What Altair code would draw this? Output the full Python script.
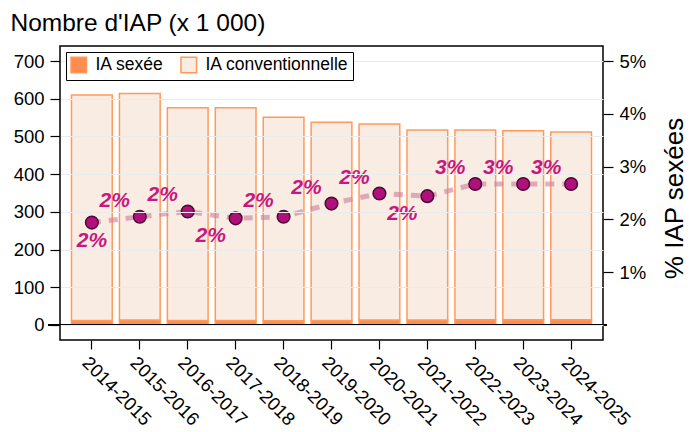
import altair as alt
import pandas as pd

saisons = ["2014-2015", "2015-2016", "2016-2017", "2017-2018", "2018-2019",
           "2019-2020", "2020-2021", "2021-2022", "2022-2023", "2023-2024", "2024-2025"]
ia_sexee = [12, 13, 12, 12, 11, 12, 13, 13, 14, 14, 14]
ia_conventionnelle = [598, 601, 564, 564, 540, 526, 520, 504, 503, 501, 498]
pct_sexees = [0.0194, 0.0205, 0.0215, 0.0202, 0.0205, 0.0230, 0.0249, 0.0244, 0.0267, 0.0267, 0.0267]
labels_dessous = ["2014-2015", "2017-2018", "2021-2022"]

types = ["IA sexée", "IA conventionnelle"]

rows = []
for s, a, b in zip(saisons, ia_sexee, ia_conventionnelle):
    rows.append({"saison": s, "type": types[0], "valeur": a, "ord": 0})
    rows.append({"saison": s, "type": types[1], "valeur": b, "ord": 1})
bars_df = pd.DataFrame(rows)

pct_df = pd.DataFrame({
    "saison": saisons,
    "pct": pct_sexees,
    "pos": ["dessous" if s in labels_dessous else "dessus" for s in saisons],
})

FONT = "Liberation Sans"
W, H = 543, 294

x_enc = alt.X(
    "saison:N", sort=saisons,
    scale=alt.Scale(paddingInner=0.15, paddingOuter=0.24),
    axis=alt.Axis(title=None, labelAngle=45, labelAlign="left", labelBaseline="top",
                  labelFontSize=18.5, labelColor="black", labelFont=FONT,
                  labelPadding=4, tickSize=9, tickColor="black", tickWidth=1.2,
                  domain=False, grid=False),
)

left_scale = alt.Scale(domain=[-40, 740], nice=False, zero=False)

bars = alt.Chart(bars_df).mark_bar(stroke="#ff9a5c", strokeWidth=1.5).encode(
    x=x_enc,
    y=alt.Y("valeur:Q", stack="zero", scale=left_scale,
            axis=alt.Axis(values=[0, 100, 200, 300, 400, 500, 600, 700],
                          title="Nombre d'IAP (x 1 000)", titleAngle=0,
                          titleAlign="left", titleBaseline="alphabetic",
                          titleX=-50, titleY=-16, titleFontSize=24.5,
                          titleFontWeight="normal", titleColor="black", titleFont=FONT,
                          labelFontSize=18.5, labelColor="black", labelFont=FONT,
                          labelPadding=6, tickSize=10, tickColor="black", tickWidth=1.2,
                          domain=False, grid=True, gridColor="#ebebeb", gridWidth=1.2,
                          zindex=1)),
    fill=alt.Fill("type:N", scale=alt.Scale(domain=types, range=["#ff8c4f", "#f8ece3"]),
                  legend=alt.Legend(title=None, orient="top-left", direction="horizontal",
                                    symbolType="square", symbolSize=240,
                                    symbolStrokeColor="#ff9a5c", symbolStrokeWidth=1.5,
                                    labelFontSize=17.5, labelFont=FONT, labelColor="black",
                                    labelOffset=8, strokeColor="black", fillColor="white",
                                    padding=4, offset=6, columnPadding=14, labelLimit=300,
                                    zindex=3)),
    order=alt.Order("ord:Q"),
)

zero_rule = alt.Chart(pct_df).mark_rule(color="black", strokeWidth=1.3).encode(
    y=alt.datum(0, scale=left_scale),
    x=alt.value(-12), x2=alt.value(W + 4),
)

left = alt.layer(bars, zero_rule)

right_scale = alt.Scale(domain=[-40 / 140 / 100, 740 / 140 / 100], nice=False, zero=False)
y_right = alt.Y("pct:Q", scale=right_scale,
                axis=alt.Axis(orient="right", values=[0.01, 0.02, 0.03, 0.04, 0.05],
                              format=".0%", title="% IAP sexées", titleAngle=270,
                              titleFontSize=26, titleFontWeight="normal", titleColor="black",
                              titleFont=FONT, titlePadding=42, titleY=152,
                              labelFontSize=18.5, labelColor="black", labelFont=FONT,
                              labelPadding=6, tickSize=10, tickColor="black", tickWidth=1.2,
                              domain=False, grid=False))

line = alt.Chart(pct_df).mark_line(color="#cf84a0", strokeWidth=5, strokeDash=[9, 8],
                                   opacity=0.65).encode(x=x_enc, y=y_right)
points = alt.Chart(pct_df).mark_circle(size=160, fill="#b0107a", stroke="#4a0a33",
                                       strokeWidth=1.5, opacity=1).encode(x=x_enc, y=y_right)
txt_style = dict(font=FONT, fontSize=21, fontWeight="bold", fontStyle="italic",
                 color="#c8187f", align="center", baseline="middle")
pct_text = alt.Text("pct:Q", format=".0%")
first = saisons[0]
text_above = alt.Chart(pct_df).transform_filter(
    (alt.datum.pos == "dessus") & (alt.datum.saison != first)).mark_text(
    dx=-25, dy=-16, **txt_style).encode(x=x_enc, y=y_right, text=pct_text)
text_below = alt.Chart(pct_df).transform_filter(
    (alt.datum.pos == "dessous") & (alt.datum.saison != first)).mark_text(
    dx=-25, dy=18, **txt_style).encode(x=x_enc, y=y_right, text=pct_text)
text_first = alt.Chart(pct_df).transform_filter(alt.datum.saison == first).mark_text(
    dx=0, dy=18, **txt_style).encode(x=x_enc, y=y_right, text=pct_text)

right = alt.layer(line, points, text_above, text_below, text_first)

chart = alt.layer(left, right).resolve_scale(y="independent").properties(
    width=W, height=H, padding={"left": 2, "top": 2, "right": 0, "bottom": 2},
).configure_view(stroke="black", strokeWidth=1.5)

chart.save("out.html", embed_options={"renderer": "svg", "actions": False})
